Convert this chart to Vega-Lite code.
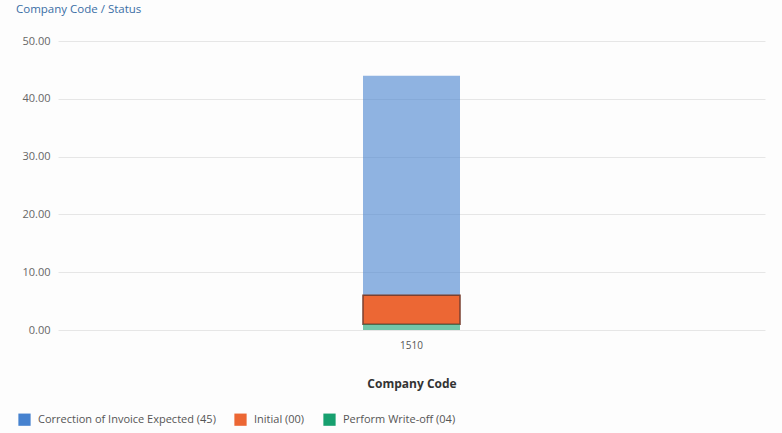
{
  "$schema": "https://vega.github.io/schema/vega-lite/v6.json",
  "width": 707,
  "height": 289,
  "autosize": "none",
  "padding": {"left": 58, "right": 17, "top": 41, "bottom": 103},
  "background": "#fdfdfd",
  "title": {
    "text": "Company Code / Status",
    "anchor": "start",
    "frame": "group",
    "font": "Open Sans",
    "fontSize": 11.5,
    "fontWeight": "normal",
    "color": "#3a6ea5",
    "offset": 20,
    "dx": -42
  },
  "data": {
    "values": [
      {"code": "1510", "status": "Correction of Invoice Expected (45)", "value": 38, "ord": 3},
      {"code": "1510", "status": "Initial (00)", "value": 5, "ord": 2},
      {"code": "1510", "status": "Perform Write-off (04)", "value": 1, "ord": 1}
    ]
  },
  "mark": {"type": "bar", "size": 97},
  "encoding": {
    "x": {
      "field": "code",
      "type": "nominal",
      "title": "Company Code",
      "axis": {
        "labelAngle": 0,
        "labelFont": "Open Sans",
        "labelFontSize": 10,
        "labelColor": "#555",
        "titleFont": "Open Sans",
        "titleFontSize": 12,
        "titleFontWeight": "bold",
        "titleColor": "#333",
        "titlePadding": 28,
        "domain": false,
        "ticks": false,
        "labelPadding": 10
      }
    },
    "y": {
      "field": "value",
      "type": "quantitative",
      "aggregate": "sum",
      "title": null,
      "scale": {"domain": [0, 50]},
      "axis": {
        "values": [0, 10, 20, 30, 40, 50],
        "format": ".2f",
        "labelFont": "Open Sans",
        "labelFontSize": 11,
        "labelColor": "#666",
        "domain": false,
        "ticks": false,
        "labelPadding": 8,
        "gridColor": "#e6e6e6"
      }
    },
    "color": {
      "field": "status",
      "type": "nominal",
      "scale": {
        "domain": ["Correction of Invoice Expected (45)", "Initial (00)", "Perform Write-off (04)"],
        "range": ["#4682cf", "#ec6734", "#17a06f"]
      },
      "legend": {
        "orient": "none",
        "legendX": -40,
        "legendY": 372,
        "direction": "horizontal",
        "title": null,
        "symbolType": "square",
        "symbolSize": 150,
        "symbolOpacity": 1,
        "symbolStrokeWidth": 0,
        "labelFont": "Open Sans",
        "labelFontSize": 11,
        "labelLimit": 0,
        "labelColor": "#555",
        "columnPadding": 18,
        "labelOffset": 7,
        "symbolOffset": 0
      }
    },
    "opacity": {
      "condition": {"test": "datum.status === 'Initial (00)'", "value": 1},
      "value": 0.6
    },
    "stroke": {
      "condition": {"test": "datum.status === 'Initial (00)'", "value": "#7a4030"},
      "value": null
    },
    "strokeWidth": {
      "condition": {"test": "datum.status === 'Initial (00)'", "value": 1.5},
      "value": 0
    },
    "order": {"field": "ord", "type": "quantitative"}
  },
  "config": {"view": {"stroke": null}}
}
